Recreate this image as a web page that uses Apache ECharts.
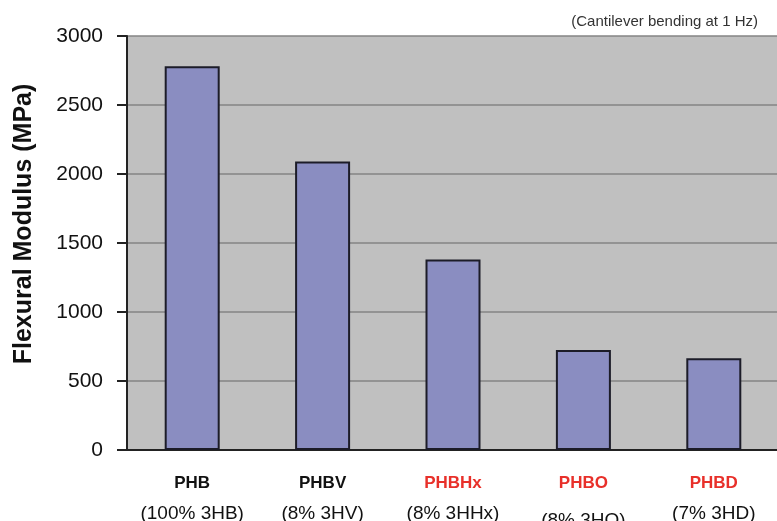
<!DOCTYPE html>
<html>
<head>
<meta charset="utf-8">
<script src="https://cdn.jsdelivr.net/npm/echarts@6/dist/echarts.min.js"></script>
<style>
  html, body { margin: 0; padding: 0; background: #fff; }
  #chart { width: 777px; height: 521px; }
</style>
</head>
<body>
<div id="chart"></div>
<script>
// data
var names = ['PHB', 'PHBV', 'PHBHx', 'PHBO', 'PHBD'];
var subNames = ['(100% 3HB)', '(8% 3HV)', '(8% 3HHx)', '(8% 3HO)', '(7% 3HD)'];
var modulus = [2780, 2090, 1380, 725, 665];
var redNames = ['PHBHx', 'PHBO', 'PHBD']; // labels printed in red

var font = '"Liberation Sans", Arial, sans-serif';

var myChart = echarts.init(document.getElementById('chart'));

var option = {
    animation: false,
    title: {
        text: '(Cantilever bending at 1 Hz)',
        right: 14,
        top: 9,
        textStyle: { color: '#333', fontSize: 15, fontWeight: 'normal', fontFamily: font }
    },
    grid: {
        left: 127,
        top: 36,
        bottom: 71,
        width: 652,
        outerBoundsMode: 'none',
        containLabel: false,
        show: true,
        backgroundColor: '#c0c0c0',
        borderWidth: 0
    },
    xAxis: {
        type: 'category',
        data: names,
        axisLine: { lineStyle: { color: '#222', width: 2 } },
        axisTick: { length: 11, lineStyle: { color: '#222', width: 2 } },
        axisLabel: {
            interval: 0,
            margin: 21,
            fontFamily: font,
            formatter: function (v, i) {
                var n = redNames.indexOf(v) >= 0 ? 'r' : 'n';
                var s = v === 'PHBO' ? 's2' : 's';
                return '{' + n + '|' + v + '}\n{' + s + '|' + subNames[i] + '}';
            },
            rich: {
                n: { fontSize: 17, fontWeight: 'bold', color: '#111', lineHeight: 24, fontFamily: font },
                r: { fontSize: 17, fontWeight: 'bold', color: '#e8302a', lineHeight: 24, fontFamily: font },
                s: { fontSize: 19, color: '#111', lineHeight: 37, fontFamily: font },
                s2: { fontSize: 19, color: '#111', lineHeight: 51, fontFamily: font }
            }
        }
    },
    yAxis: {
        type: 'value',
        min: 0,
        max: 3000,
        interval: 500,
        name: 'Flexural Modulus (MPa)',
        nameLocation: 'middle',
        nameGap: 90,
        nameTextStyle: {
            fontSize: 25,
            fontWeight: 'bold',
            color: '#111',
            fontFamily: font,
            padding: [0, 0, 0, 38]
        },
        axisLine: { show: true, lineStyle: { color: '#222', width: 2 } },
        axisTick: { show: true, length: 10, lineStyle: { color: '#222', width: 2 } },
        axisLabel: {
            fontSize: 21, color: '#111', margin: 24, fontFamily: font,
            formatter: function (v) { return String(v); }
        },
        splitLine: { lineStyle: { color: '#858585', width: 1.5 } }
    },
    series: [{
        type: 'bar',
        data: modulus,
        barWidth: 55,
        itemStyle: { color: '#8a8dc1', borderColor: '#1c1c28', borderWidth: 2 }
    }]
};

myChart.setOption(option);
</script>
</body>
</html>
